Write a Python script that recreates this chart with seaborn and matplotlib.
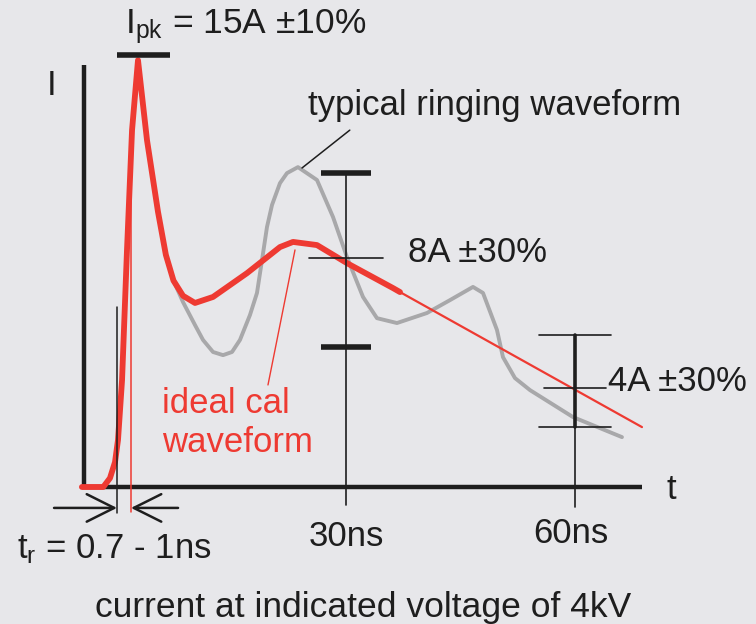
import numpy as np
import pandas as pd
import matplotlib
matplotlib.use("Agg")
import matplotlib.pyplot as plt
import seaborn as sns

# ---------------- data (t in ns, I in A) ----------------
ideal_t = [-4.6, -1.8, -0.92, -0.26, 0.13, 0.66, 1.31, 1.97, 2.75,
           3.93, 5.37, 6.40, 7.40, 8.65, 10.22, 12.58, 17.03, 21.35, 23.06,
           26.20, 30.13, 36.16, 37.08]
ideal_i = [0.0, 0.0, 0.31, 0.87, 1.64, 3.73, 8.27, 12.45, 14.89,
           12.10, 9.60, 8.10, 7.20, 6.67, 6.42, 6.63, 7.46, 8.37, 8.55,
           8.44, 7.81, 6.94, 6.80]
tail_t = [37.08, 68.78]
tail_i = [6.80, 2.09]

ring_t = [2.75, 3.93, 5.37, 6.40, 7.40, 8.65, 10.22, 11.27, 12.58, 13.89,
          15.07, 16.11, 17.42, 18.34, 19.00, 19.65, 20.31, 21.35, 22.27,
          23.71, 26.20, 28.30, 30.13, 32.23, 34.06, 36.68, 40.61, 43.63,
          46.64, 47.95, 49.78, 50.57, 52.14, 54.11, 59.74, 66.16]
ring_i = [14.89, 12.10, 9.60, 8.10, 7.20, 6.45, 5.65, 5.13, 4.71, 4.60,
          4.71, 5.13, 6.00, 6.77, 7.92, 9.07, 9.84, 10.60, 10.95,
          11.16, 10.71, 9.42, 8.02, 6.63, 5.89, 5.72, 6.07, 6.52,
          6.98, 6.77, 5.48, 4.53, 3.80, 3.38, 2.44, 1.74]

# tolerance windows: time, nominal, upper, lower
tol_t = [30.0, 60.0]
tol_nom = [7.99, 3.45]
tol_hi = [10.95, 5.30]
tol_lo = [4.88, 2.09]

peak_level = 15.07
rise_start, rise_end = 0.0, 1.83

labels = {
    "peak": r"$\mathregular{I_{pk}}$ = 15A ±10%",
    "tol30": "8A ±30%",
    "tol60": "4A ±30%",
    "ring": "typical ringing waveform",
    "ideal1": "ideal cal",
    "ideal2": "waveform",
    "tick30": "30ns",
    "tick60": "60ns",
    "rise": r"$\mathregular{t_r}$ = 0.7 - 1ns",
    "caption": "current at indicated voltage of 4kV",
}

# ---------------- style ----------------
BG = "#e7e7ea"
RED = "#ee3a32"
GRAY = "#a8a8aa"
BLK = "#1e1e1e"

sns.set_theme(style="white", rc={"axes.facecolor": BG, "figure.facecolor": BG})
plt.rcParams["font.family"] = ["Liberation Sans", "DejaVu Sans"]
plt.rcParams["mathtext.fontset"] = "custom"
plt.rcParams["mathtext.rm"] = "Liberation Sans"

fig = plt.figure(figsize=(7.56, 6.24), dpi=100)
ax = fig.add_axes([0, 0, 1, 1])
ax.set_xlim(-15.33, 83.72)
ax.set_ylim(-4.78, 16.99)
ax.axis("off")

FS = 25
round_kw = dict(solid_joinstyle="round", solid_capstyle="round")

# axes of the diagram
ax.plot([-4.32, -4.32], [-0.05, 14.72], color=BLK, lw=3.2, solid_capstyle="butt")
ax.plot([-4.6, 68.8], [0, 0], color=BLK, lw=3.2, solid_capstyle="butt")
ax.text(-8.52, 14.02, "I", fontsize=FS, color=BLK, ha="center", va="center")
ax.text(72.0, -0.42, "t", fontsize=FS, color=BLK, ha="left", va="baseline")

# ringing waveform (gray) under the ideal one
sns.lineplot(x=ring_t, y=ring_i, ax=ax, sort=False, estimator=None,
             color=GRAY, lw=2.8, **round_kw)
# ideal waveform
sns.lineplot(x=ideal_t, y=ideal_i, ax=ax, sort=False, estimator=None,
             color=RED, lw=4.2, **round_kw)
sns.lineplot(x=tail_t, y=tail_i, ax=ax, sort=False, estimator=None,
             color=RED, lw=1.6)

# peak bar
ax.plot([0.0, 6.94], [peak_level, peak_level], color=BLK, lw=4.0, solid_capstyle="butt")
ax.text(1.05, 15.84, labels["peak"], fontsize=FS + 0.5, color=BLK, ha="left", va="baseline")

# 30 ns tolerance window
t0 = tol_t[0]
ax.plot([t0, t0], [-0.63, tol_hi[0]], color=BLK, lw=1.2)
ax.plot([t0 - 3.28, t0 + 3.28], [tol_hi[0], tol_hi[0]], color=BLK, lw=4.0, solid_capstyle="butt")
ax.plot([t0 - 3.28, t0 + 3.28], [tol_lo[0], tol_lo[0]], color=BLK, lw=4.0, solid_capstyle="butt")
ax.plot([t0 - 4.9, t0 + 4.9], [tol_nom[0], tol_nom[0]], color=BLK, lw=1.2)
ax.text(38.12, 7.85, labels["tol30"], fontsize=FS, color=BLK, ha="left", va="baseline")

# 60 ns tolerance window
t1 = tol_t[1]
ax.plot([t1, t1], [-0.70, tol_lo[1]], color=BLK, lw=1.2)
ax.plot([t1, t1], [tol_lo[1], tol_hi[1]], color=BLK, lw=2.6)
ax.plot([t1 - 4.7, t1 + 4.7], [tol_hi[1], tol_hi[1]], color=BLK, lw=1.2)
ax.plot([t1 - 4.1, t1 + 4.1], [tol_nom[1], tol_nom[1]], color=BLK, lw=1.2)
ax.plot([t1 - 4.7, t1 + 4.7], [tol_lo[1], tol_lo[1]], color=BLK, lw=1.2)
ax.text(64.33, 3.35, labels["tol60"], fontsize=FS, color=BLK, ha="left", va="baseline")

# tick labels
ax.text(30.0, -2.06, labels["tick30"], fontsize=FS, color=BLK, ha="center", va="baseline")
ax.text(59.4, -1.95, labels["tick60"], fontsize=FS, color=BLK, ha="center", va="baseline")

# pointers
ax.plot([30.5, 24.24], [12.45, 11.13], color=BLK, lw=1.1)
ax.text(25.02, 12.98, labels["ring"], fontsize=FS, color=BLK, ha="left", va="baseline")
ax.plot([23.32, 19.78], [8.27, 3.56], color=RED, lw=1.0)
ax.text(5.90, 2.58, labels["ideal1"], fontsize=FS, color=RED, ha="left", va="baseline")
ax.text(5.90, 1.22, labels["ideal2"], fontsize=FS, color=RED, ha="left", va="baseline")

# rise-time markers
ax.plot([rise_start, rise_start], [-0.91, 6.28], color=BLK, lw=1.1)
ax.plot([rise_end, rise_end], [-0.87, 10.0], color=RED, lw=1.1)
ax.annotate("", xy=(rise_start, -0.73), xytext=(-8.25, -0.73),
            arrowprops=dict(arrowstyle="->,head_length=0.9,head_width=0.45",
                            color=BLK, lw=1.8, mutation_scale=22,
                            shrinkA=0, shrinkB=0))
ax.annotate("", xy=(rise_end, -0.73), xytext=(8.0, -0.73),
            arrowprops=dict(arrowstyle="->,head_length=0.9,head_width=0.45",
                            color=BLK, lw=1.8, mutation_scale=22,
                            shrinkA=0, shrinkB=0))
ax.text(-13.1, -2.48, labels["rise"], fontsize=FS, color=BLK, ha="left", va="baseline")

ax.text(32.2, -4.53, labels["caption"], fontsize=FS + 0.5, color=BLK, ha="center", va="baseline")

fig.savefig("out.png", dpi=100, facecolor=BG)
